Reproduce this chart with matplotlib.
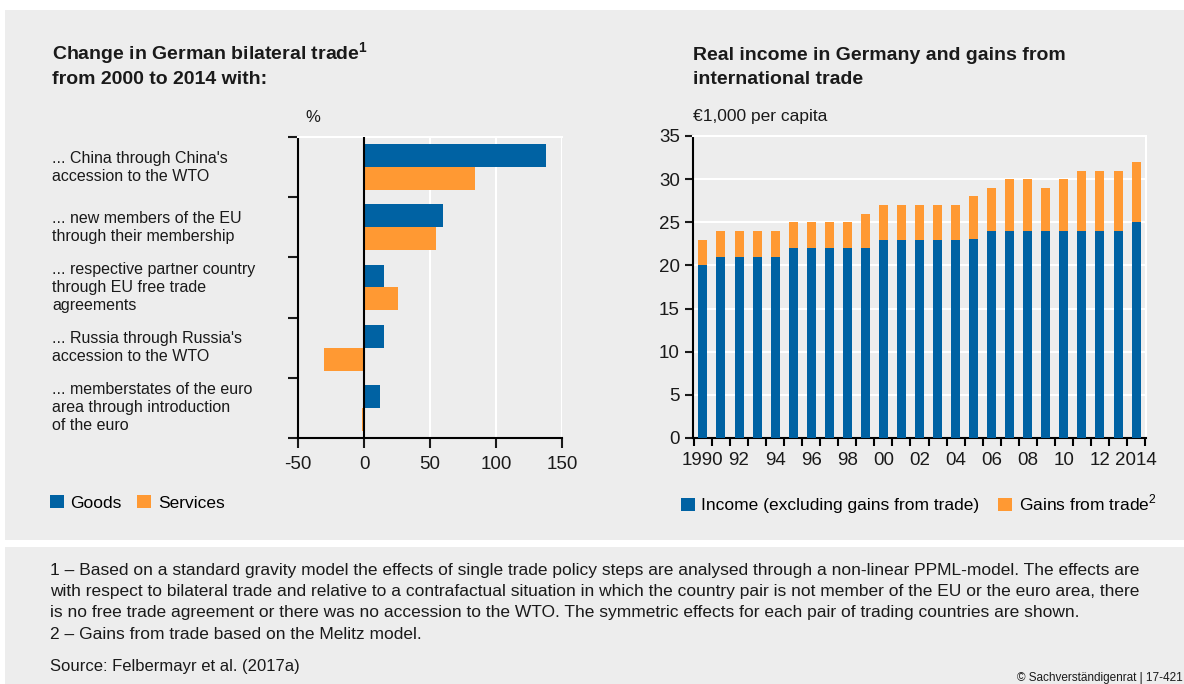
import numpy as np
import matplotlib
matplotlib.use("Agg")
import matplotlib.pyplot as plt
import matplotlib.transforms as mtransforms
from matplotlib.patches import Rectangle

plt.rcParams['font.family'] = ['Liberation Sans', 'DejaVu Sans']
plt.rcParams['mathtext.fontset'] = 'custom'
plt.rcParams['mathtext.rm'] = 'Liberation Sans'
plt.rcParams['mathtext.bf'] = 'Liberation Sans:bold'
plt.rcParams['axes.unicode_minus'] = False

BLUE = "#0062A3"
ORANGE = "#FF9933"
BG = "#EDEDED"
TXT = "#1a1a1a"

# left chart data (% change)
trade_labels = ["... China through China's\naccession to the WTO",
                "... new members of the EU\nthrough their membership",
                "... respective partner country\nthrough EU free trade\nagreements",
                "... Russia through Russia's\naccession to the WTO",
                "... memberstates of the euro\narea through introduction\nof the euro"]
goods = [138, 60, 15, 15, 12]
services = [84, 54.5, 26, -30, -1.5]

# right chart data (EUR 1,000 per capita)
years = list(range(1990, 2015))
income = [20, 21, 21, 21, 21, 22, 22, 22, 22, 22, 23, 23, 23, 23, 23,
          23.1, 24, 24, 24, 24, 24, 24, 24, 24, 25]
total = [23, 24, 24, 24, 24, 25, 25, 25, 25, 26, 27, 27, 27, 27, 27,
         28, 29, 30, 30, 29, 30, 31, 31, 31, 32]
gains = [t - i for t, i in zip(total, income)]
year_labels = ["1990", "92", "94", "96", "98", "00", "02", "04", "06", "08", "10", "12", "2014"]

W, H = 1184, 684
fig = plt.figure(figsize=(W / 100, H / 100), dpi=100)
fig.patch.set_facecolor("white")


def box(l, t, r, b):
    return [l / W, 1 - b / H, (r - l) / W, (b - t) / H]


# background panels
fig.patches.append(Rectangle((5 / W, 1 - 540 / H), 1, (540 - 10) / H, transform=fig.transFigure,
                             facecolor=BG, edgecolor="none", zorder=-10))
fig.patches.append(Rectangle((5 / W, 0), 1, (684 - 547) / H, transform=fig.transFigure,
                             facecolor=BG, edgecolor="none", zorder=-10))

# ---------- left chart ----------
ax1 = fig.add_axes(box(298, 137, 562, 438))
ax1.set_facecolor(BG)
pos = np.arange(len(goods))
ax1.barh(pos - 0.19, goods, height=0.38, color=BLUE, label="Goods", zorder=3)
ax1.barh(pos + 0.19, services, height=0.38, color=ORANGE, label="Services", zorder=3)
ax1.set_xlim(-50, 150)
ax1.set_ylim(4.5, -0.5)
ax1.set_xticks([-50, 0, 50, 100, 150])
ax1.set_yticks(np.arange(-0.5, 5, 1))
ax1.set_yticklabels([])
for xv in [50, 100, 150]:
    ax1.axvline(xv, color="white", lw=1.5, zorder=1)
ax1.axvline(0, color="black", lw=1.5, zorder=4)
ax1.spines["right"].set_visible(False)
ax1.spines["top"].set_color("white")
ax1.spines["top"].set_linewidth(1.5)
for s in ["left", "bottom"]:
    ax1.spines[s].set_color("black")
    ax1.spines[s].set_linewidth(1.5)
ax1.tick_params(axis="both", direction="out", length=7, width=1.5, labelsize=13.5, colors=TXT)
ax1.tick_params(axis="x", pad=6)

trans = mtransforms.blended_transform_factory(fig.transFigure, ax1.transData)
for i, lab in enumerate(trade_labels):
    ax1.text(52 / W, i, lab, transform=trans, ha="left", va="center", fontsize=11.5,
             color=TXT, linespacing=1.25)

fig.text(305 / W, 1 - 118 / H, "%", fontsize=12, color=TXT, va="center")
fig.text(52 / W, 1 - 60 / H, "Change in German bilateral trade$^{\\mathbf{1}}$",
         fontsize=14, fontweight="bold", color=TXT, va="baseline")
fig.text(52 / W, 1 - 84 / H, "from 2000 to 2014 with:",
         fontsize=14, fontweight="bold", color=TXT, va="baseline")
ax1.legend(loc="center left", bbox_to_anchor=(34 / W, 1 - 503 / H), bbox_transform=fig.transFigure,
           ncol=2, frameon=False, fontsize=12.5, handlelength=0.8, handleheight=0.8,
           handletextpad=0.4, columnspacing=0.9)

# ---------- right chart ----------
ax2 = fig.add_axes(box(693, 136, 1146, 438))
ax2.set_facecolor(BG)
x = np.arange(len(years))
ax2.bar(x, income, width=0.5, color=BLUE, label="Income (excluding gains from trade)", zorder=3)
ax2.bar(x, gains, width=0.5, bottom=income, color=ORANGE, label="Gains from trade$^{2}$", zorder=3)
ax2.set_xlim(-0.55, len(years) - 0.45)
ax2.set_ylim(0, 35)
ax2.set_yticks(np.arange(0, 36, 5))
ax2.grid(axis="y", color="white", lw=1.5, zorder=1)
ax2.set_xticks(x[::2])
ax2.set_xticklabels(year_labels)
ax2.set_xticks(np.arange(-0.5, len(years), 1), minor=True)
ax2.tick_params(axis="x", which="major", length=0, pad=10, labelsize=13.5, colors=TXT)
ax2.tick_params(axis="x", which="minor", direction="out", length=6, width=1.5)
ax2.tick_params(axis="y", direction="out", length=6, width=1.5, labelsize=13.5, colors=TXT)
for s in ["left", "bottom"]:
    ax2.spines[s].set_color("black")
    ax2.spines[s].set_linewidth(1.5)
for s in ["top", "right"]:
    ax2.spines[s].set_color("white")
    ax2.spines[s].set_linewidth(1.5)

fig.text(693 / W, 1 - 116 / H, "€1,000 per capita", fontsize=12.5, color=TXT, va="center")
fig.text(693 / W, 1 - 60 / H, "Real income in Germany and gains from",
         fontsize=14, fontweight="bold", color=TXT, va="baseline")
fig.text(693 / W, 1 - 84 / H, "international trade",
         fontsize=14, fontweight="bold", color=TXT, va="baseline")
ax2.legend(loc="center left", bbox_to_anchor=(665 / W, 1 - 503 / H), bbox_transform=fig.transFigure,
           ncol=2, frameon=False, fontsize=12.5, handlelength=0.8, handleheight=0.8,
           handletextpad=0.4, columnspacing=1.05)

# ---------- footnotes ----------
notes = ("1 – Based on a standard gravity model the effects of single trade policy steps are analysed through a non-linear PPML-model. The effects are\n"
         "with respect to bilateral trade and relative to a contrafactual situation in which the country pair is not member of the EU or the euro area, there\n"
         "is no free trade agreement or there was no accession to the WTO. The symmetric effects for each pair of trading countries are shown.\n"
         "2 – Gains from trade based on the Melitz model.")
fig.text(50 / W, 1 - 563 / H, notes, fontsize=12.5, color=TXT, va="top", linespacing=1.52)
fig.text(50 / W, 1 - 666 / H, "Source: Felbermayr et al. (2017a)", fontsize=12, color=TXT, va="center")
fig.text(1017 / W, 1 - 678 / H, "© Sachverständigenrat | 17-421", fontsize=8.5, color=TXT, va="center")

fig.savefig("out.png", dpi=100, facecolor="white")
